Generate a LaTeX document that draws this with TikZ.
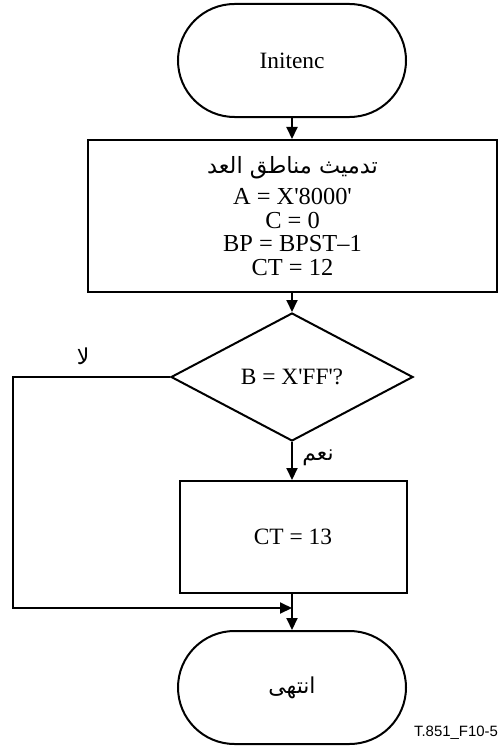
\documentclass[tikz,border=0pt]{standalone}
\usepackage{fontspec}
\setmainfont{Liberation Serif}
\newfontfamily\arabicfont[Script=Arabic]{DejaVu Sans}
\newfontfamily\figsans{Liberation Sans}
\TeXXeTstate=1
\usetikzlibrary{shapes.geometric,arrows.meta}
\newcommand\sq{\textquotesingle}
\begin{document}
\begin{tikzpicture}[x=1bp,y=-1bp, line width=2bp,
  term/.style={draw, rounded corners=56.5bp, minimum width=228bp, minimum height=113bp, inner sep=0pt},
  procbox/.style={draw, inner sep=0pt, align=center},
  decision/.style={draw, diamond, aspect=1.9, inner sep=0pt, minimum width=242bp, minimum height=128bp},
  arr/.style={-{Triangle[length=12bp,width=11bp]}},
  txt/.style={font=\fontsize{23.5}{24}\selectfont},
  lbl/.style={font=\fontsize{22}{24}\selectfont\arabicfont, inner sep=0pt}
]
\useasboundingbox (0,0) rectangle (500,751);
\node[term, txt] (start) at (292,60.5) {Initenc};
\node[procbox, minimum width=409bp, minimum height=152bp,
      font=\fontsize{24.5}{23.5}\selectfont] (init) at (292.5,216)
  {{\arabicfont\fontsize{22.5}{23}\selectfont\beginR تدميث مناطق العد\endR}\\[8bp]
   A = X\sq8000\sq\\ C = 0\\ BP = BPST–1\\ CT = 12};
\node[decision, txt] (dec) at (292,377) {B = X\sq FF\sq?};
\node[procbox, txt, minimum width=227bp, minimum height=112bp] (ct) at (293,537) {CT = 13};
\node[term, txt] (stop) at (292,687.5) {\arabicfont\fontsize{22}{24}\selectfont\beginR انتهى\endR};

\coordinate (loopL) at (13,377);
\coordinate (join) at (292,608);

\draw[arr] (start.south) -- (start.south |- init.north);
\draw[arr] (init.south -| dec.north) -- (dec.north);
\draw[arr] (dec.south) -- (dec.south |- ct.north);
\draw[arr] (ct.south -| stop.north) -- (stop.north);
\draw[arr] (dec.west) -- (loopL) |- (join);

\node[lbl] (no) at (83,356) {\beginR لا\endR};
\node[lbl] (yes) at (318,458) {\beginR نعم\endR};
\node[anchor=east, inner sep=0pt, font=\figsans\fontsize{15}{17}\selectfont] (fig) at (499,733) {T.851\_F10-5};
\end{tikzpicture}
\end{document}
